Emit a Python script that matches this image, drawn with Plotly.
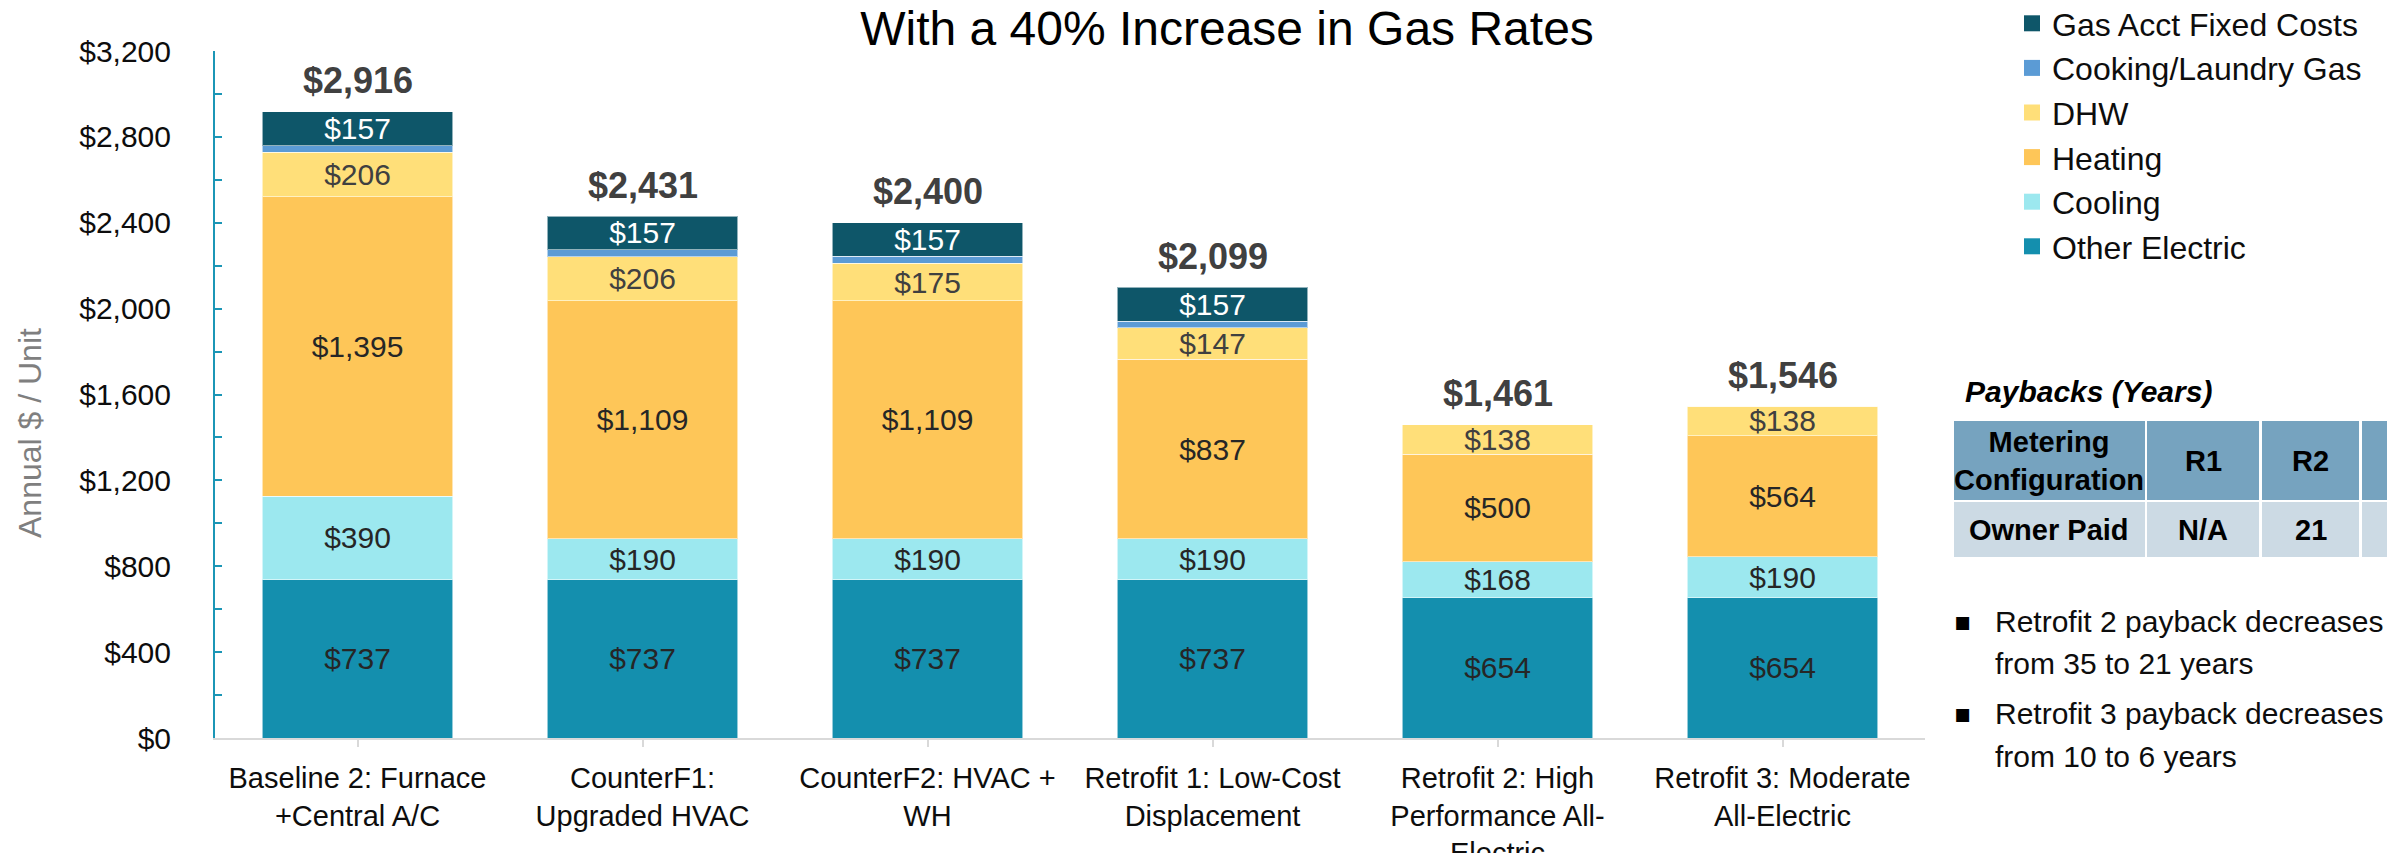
import plotly.graph_objects as go

# ---------------- data ----------------
categories = [
    "Baseline 2: Furnace<br>+Central A/C",
    "CounterF1:<br>Upgraded HVAC",
    "CounterF2: HVAC +<br>WH",
    "Retrofit 1: Low-Cost<br>Displacement",
    "Retrofit 2: High<br>Performance All-<br>Electric",
    "Retrofit 3: Moderate<br>All-Electric",
]
other_electric = [737, 737, 737, 737, 654, 654]
cooling = [390, 190, 190, 190, 168, 190]
heating = [1395, 1109, 1109, 837, 500, 564]
dhw = [206, 206, 175, 147, 138, 138]
cooking_gas = [31, 32, 32, 31, 0, 0]
gas_fixed = [157, 157, 157, 157, 0, 0]
totals = [2916, 2431, 2400, 2099, 1461, 1546]

series_names = ["Other Electric", "Cooling", "Heating", "DHW",
                "Cooking/Laundry Gas", "Gas Acct Fixed Costs"]
series_values = [other_electric, cooling, heating, dhw, cooking_gas, gas_fixed]
series_colors = ["#148FAE", "#9CE8EF", "#FEC658", "#FFDF79", "#5B9BD5", "#0E5669"]
series_label = [True, True, True, True, False, True]
series_textcolor = ["#262626", "#262626", "#262626", "#404040", "#262626", "#FFFFFF"]

table_title = "Paybacks (Years)"
table_header = ["Metering<br>Configuration", "R1", "R2", "R3"]
table_row = ["Owner Paid", "N/A", "21", "6"]
bullet_items = [
    ["Retrofit 2 payback decreases", "from 35 to 21 years"],
    ["Retrofit 3 payback decreases", "from 10 to 6 years"],
]

FONT = "Liberation Sans, Arial, sans-serif"

# ---------------- layout geometry (pixels) ----------------
W, H = 2395, 853
PL, PR, PT, PB = 207, 1917, 43, 730  # plot area


def px2x(px):
    return (px - PL) / (PR - PL)


def py2y(py):
    return (PB - py) / (PB - PT)


fig = go.Figure()

for name, vals, col, lab, tcol in zip(series_names, series_values, series_colors,
                                      series_label, series_textcolor):
    texts = [f"${v:,}" if (lab and v > 0) else "" for v in vals]
    fig.add_trace(go.Bar(
        x=categories, y=vals, name=name,
        marker=dict(color=col, line=dict(color="rgba(255,255,255,0.55)", width=1)),
        text=texts, textposition="inside", insidetextanchor="middle",
        textangle=0, constraintext="none",
        insidetextfont=dict(family=FONT, size=30, color=tcol),
        showlegend=False, hoverinfo="skip",
    ))

# legend entries (top to bottom order as in reference)
for name, col in zip(series_names[::-1], series_colors[::-1]):
    fig.add_trace(go.Scatter(
        x=[None], y=[None], mode="markers", name=name, legendgroup=name,
        marker=dict(symbol="square", size=18, color=col),
        showlegend=True, hoverinfo="skip",
    ))

annotations = []
# totals above bars
for c, t in zip(categories, totals):
    annotations.append(dict(
        x=c, y=t, xref="x", yref="y", text=f"<b>${t:,}</b>", showarrow=False,
        yanchor="middle", yshift=31,
        font=dict(family=FONT, size=36, color="#404040"),
    ))

# y-axis title
annotations.append(dict(
    x=px2x(22), y=py2y(425), xref="paper", yref="paper", text="Annual $ / Unit",
    textangle=-90, showarrow=False, xanchor="center", yanchor="middle",
    font=dict(family=FONT, size=32, color="#7F7F7F"),
))

# ---------------- payback table ----------------
shapes = []
annotations.append(dict(
    x=px2x(1955), y=py2y(383), xref="paper", yref="paper",
    text=f"<b><i>{table_title}</i></b>", showarrow=False,
    xanchor="left", yanchor="middle",
    font=dict(family=FONT, size=30, color="#000000"),
))
col_left = [1946, 2139, 2254, 2354]
col_width = [191, 112, 97, 100]
row_top = [413, 494]
row_height = [79, 55]
row_fill = ["#76A3BF", "#CCDAE4"]
for ri, (cells, rt, rh, fill) in enumerate(zip([table_header, table_row], row_top,
                                               row_height, row_fill)):
    for txt, cl, cw in zip(cells, col_left, col_width):
        shapes.append(dict(
            type="rect", xref="paper", yref="paper",
            x0=px2x(cl), x1=px2x(cl + cw), y0=py2y(rt + rh), y1=py2y(rt),
            fillcolor=fill, line=dict(width=0), layer="above",
        ))
        annotations.append(dict(
            x=px2x(cl + cw / 2), y=py2y(rt + rh / 2), xref="paper", yref="paper",
            text=f"<b>{txt}</b>", showarrow=False, xanchor="center", yanchor="middle",
            font=dict(family=FONT, size=29, color="#000000"),
        ))

# bullets
line_y = [[613, 655], [705, 748]]
for item, ys in zip(bullet_items, line_y):
    annotations.append(dict(
        x=px2x(1955), y=py2y(ys[0]), xref="paper", yref="paper", text="▪",
        showarrow=False, xanchor="center", yanchor="middle",
        font=dict(family="DejaVu Sans", size=26, color="#000000"),
    ))
    for line, yy in zip(item, ys):
        annotations.append(dict(
            x=px2x(1985), y=py2y(yy), xref="paper", yref="paper", text=line,
            showarrow=False, xanchor="left", yanchor="middle",
            font=dict(family=FONT, size=30, color="#0D0D0D"),
        ))

teal_axis = "#1B96B6"
fig.update_layout(
    width=W, height=H,
    margin=dict(l=PL, r=W - PR, t=PT, b=H - PB, autoexpand=False),
    paper_bgcolor="white", plot_bgcolor="white",
    barmode="stack", bargap=0.333,
    font=dict(family=FONT, color="#000000"),
    title=dict(
        text="With a 40% Increase in Gas Rates",
        x=1219 / W, xref="container", xanchor="center",
        y=1 - 20 / H, yref="container", yanchor="middle",
        font=dict(family=FONT, size=48, color="#000000"),
    ),
    xaxis=dict(
        type="category", range=[-0.5, 5.5],
        showline=True, linecolor="#D9D9D9", linewidth=2,
        ticks="outside", ticklen=7, tickwidth=2, tickcolor="#D9D9D9",
        tickfont=dict(family=FONT, size=29, color="#0D0D0D"),
        ticklabelstandoff=6,
        showgrid=False, zeroline=False, fixedrange=True,
    ),
    yaxis=dict(
        range=[0, 3200], dtick=400, tick0=0,
        tickprefix="$", tickformat=",d",
        showline=True, linecolor=teal_axis, linewidth=2,
        ticks="inside", ticklen=7, tickwidth=2, tickcolor=teal_axis,
        minor=dict(dtick=200, ticks="inside", ticklen=7, tickwidth=2,
                   tickcolor=teal_axis, showgrid=False),
        tickfont=dict(family=FONT, size=30, color="#0D0D0D"),
        ticklabelstandoff=36,
        showgrid=False, zeroline=False, fixedrange=True,
    ),
    legend=dict(
        x=2004 / W, xref="container", xanchor="left",
        y=(PB + 12) / (PB - PT), yref="paper", yanchor="top",
        traceorder="grouped", tracegroupgap=0, itemsizing="trace",
        font=dict(family=FONT, size=32, color="#0D0D0D"),
        bgcolor="rgba(0,0,0,0)", borderwidth=0,
    ),
    annotations=annotations,
    shapes=shapes,
)

fig.write_html("out.html")
